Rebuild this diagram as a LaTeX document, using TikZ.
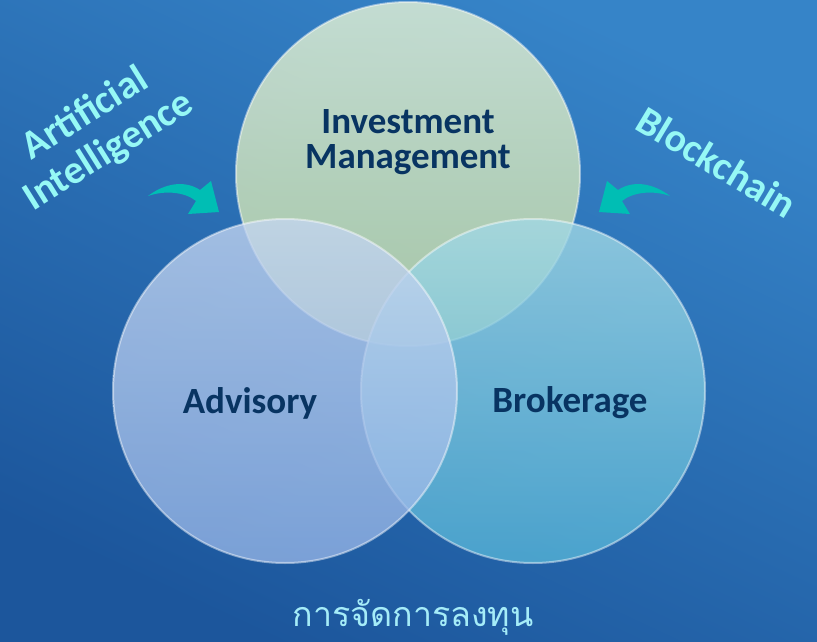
\documentclass[tikz,border=0pt]{standalone}
\usepackage{fontspec}
\setmainfont{Carlito}
\newfontfamily\thaifont[Script=Thai]{Loma}
\usetikzlibrary{positioning}
\definecolor{bgdark}{RGB}{28,86,156}
\definecolor{bglight}{RGB}{54,132,200}
\definecolor{labelnavy}{RGB}{8,52,98}
\definecolor{techcyan}{RGB}{150,248,245}
\definecolor{thaicyan}{RGB}{165,236,248}
\definecolor{arrowteal}{RGB}{0,190,180}
\definecolor{investtop}{RGB}{208,228,212}
\definecolor{investbot}{RGB}{174,204,164}
\definecolor{brokertop}{RGB}{162,216,228}
\definecolor{brokerbot}{RGB}{84,178,214}
\definecolor{advisetop}{RGB}{196,213,240}
\definecolor{advisebot}{RGB}{148,180,230}

\tikzset{
  bubble/.style={circle, minimum size=344pt, inner sep=0pt, draw=white, draw opacity=0.45, line width=2pt},
  mainlabel/.style={text=labelnavy, align=center, font=\fontsize{37}{35}\selectfont\bfseries},
  techlabel/.style={text=techcyan, align=center, font=\fontsize{40}{44}\selectfont\bfseries},
  pics/bendarrow/.style={code={
    \fill[arrowteal] (0,0) .. controls (17,-13) and (37,-16) .. (52,-6)
      -- (63,-15) -- (71,16) -- (40,18) -- (48,5)
      .. controls (37,-4) and (17,-6) .. (0,0) -- cycle;
  }}
}

\begin{document}
\begin{tikzpicture}[x=1pt, y=-1pt]
  % Background
  \shade[top color=bglight, bottom color=bgdark, shading angle=-25] (0,0) rectangle (817,642);
  \useasboundingbox (0,0) rectangle (817,642);

  % Circles
  \node[bubble, top color=investtop, bottom color=investbot, fill opacity=0.92] (investc) at (408,174) {};
  \node[bubble, top color=brokertop, bottom color=brokerbot, fill opacity=0.8] (brokerc) at (533,391) {};
  \node[bubble, top color=advisetop, bottom color=advisebot, fill opacity=0.78] (advisec) at (285,391) {};

  % Labels
  \node[mainlabel] (invest) at (408,142) {Investment\\Management};
  \node[mainlabel] (advise) at (250,403) {Advisory};
  \node[mainlabel] (broker) at (570,403) {Brokerage};

  % Technologies
  \node[techlabel, rotate=32] (ai) at (97,133) {Artificial\\Intelligence};
  \node[techlabel, rotate=-31] (chain) at (717,162) {Blockchain};

  % Arrows
  \coordinate (aitail) at (148,196);
  \coordinate (chaintail) at (670,196);
  \pic at (aitail) {bendarrow};
  \pic[xscale=-1] at (chaintail) {bendarrow};

  % Title
  \node[text=thaicyan, font=\thaifont\fontsize{34}{40}\selectfont] (title) at (413,617) {การจัดการลงทุน};
\end{tikzpicture}
\end{document}
